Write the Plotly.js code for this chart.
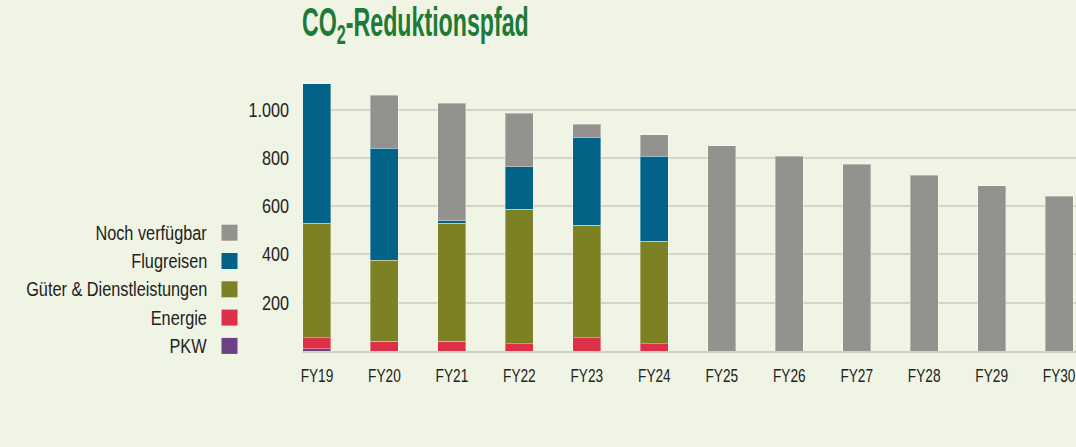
<!DOCTYPE html>
<html>
<head>
<meta charset="utf-8">
<script src="https://cdn.plot.ly/plotly-3.0.1.min.js"></script>
<style>
html,body{margin:0;padding:0;background:#f0f4e4;}
#chart{width:1076px;height:447px;}
</style>
</head>
<body>
<div id="chart"></div>
<script>
// ---- data ----
const categories = ["FY19","FY20","FY21","FY22","FY23","FY24","FY25","FY26","FY27","FY28","FY29","FY30"];
const pkw        = [10, 0, 0, 0, 0, 0, 0, 0, 0, 0, 0, 0];
const energie    = [45, 41, 41, 31, 55, 31, 0, 0, 0, 0, 0, 0];
const gueter     = [475, 334, 489, 556, 466, 423, 0, 0, 0, 0, 0, 0];
const flugreisen = [576, 464, 10, 176, 362, 352, 0, 0, 0, 0, 0, 0];
const nochVerf   = [0, 221, 487, 221, 57, 89, 851, 807, 774, 728, 684, 640];
const seriesNames = ["PKW", "Energie", "Güter & Dienstleistungen", "Flugreisen", "Noch verfügbar"];
const seriesColors = ["#6e4187", "#dc3048", "#7d8023", "#006387", "#94928e"];
const yTickVals = [200, 400, 600, 800, 1000];
const yTickText = ["200", "400", "600", "800", "1.000"];
const titleText = "CO<sub>2</sub>-Reduktionspfad";

// ---- chart ----
const FONT = "Liberation Sans, Arial, sans-serif";
const W = 1076, H = 447;
const M = {l: 302, r: 0, t: 83, b: 96};
const seriesValues = [pkw, energie, gueter, flugreisen, nochVerf];

const traces = seriesValues.map((vals, i) => ({
  type: "bar",
  name: seriesNames[i],
  x: categories,
  y: vals,
  marker: {color: seriesColors[i], line: {color: "rgba(255,255,255,0.35)", width: 1}},
  hoverinfo: "x+y+name",
  showlegend: false
}));

// legend drawn on the left: text right-aligned, swatch to its right
const plotH = H - M.t - M.b, plotW = W - M.l - M.r;
const pxX = x => (x - M.l) / plotW;
const pxY = y => (H - M.b - y) / plotH;
const annotations = [], shapes = [];
const legendOrder = [4, 3, 2, 1, 0];
legendOrder.forEach((si, row) => {
  const cy = 232.7 + row * 28.3;
  annotations.push({
    xref: "paper", yref: "paper", x: pxX(209), y: pxY(cy),
    xanchor: "right", yanchor: "middle", showarrow: false,
    text: seriesNames[si], font: {family: FONT, size: 20, color: "#222"}
  });
  shapes.push({
    type: "rect", xref: "paper", yref: "paper",
    x0: pxX(221.5), x1: pxX(237.5), y0: pxY(cy - 8), y1: pxY(cy + 8),
    fillcolor: seriesColors[si], line: {width: 0}
  });
});

const layout = {
  width: W, height: H,
  margin: M,
  barmode: "stack",
  bargap: 0.585,
  paper_bgcolor: "#f0f4e4",
  plot_bgcolor: "#f0f4e4",
  font: {family: FONT, size: 20, color: "#222"},
  title: {
    text: titleText,
    font: {family: FONT, size: 40, color: "#1e7a37", weight: "bold"},
    xref: "paper", x: 0, xanchor: "left",
    yref: "container", y: 1 - 22 / H, yanchor: "middle"
  },
  xaxis: {
    type: "category",
    range: [-0.222, 11.25],
    showgrid: false, zeroline: false,
    showline: true, linecolor: "#cfd2c2", linewidth: 2,
    ticks: "", ticklabelstandoff: 6,
    tickfont: {family: FONT, size: 19, color: "#222"},
    fixedrange: true
  },
  yaxis: {
    range: [0, 1110],
    tickvals: yTickVals, ticktext: yTickText,
    showgrid: true, gridcolor: "#d3d6c6", gridwidth: 2,
    zeroline: false, showline: false,
    ticks: "", ticklabelstandoff: 12,
    tickfont: {family: FONT, size: 20, color: "#222"},
    fixedrange: true
  },
  annotations: annotations,
  shapes: shapes,
  showlegend: false
};

// condense text horizontally (reference uses a condensed typeface)
function condense(sel, s, pivot) {
  document.querySelectorAll(sel).forEach(t => {
    const b = t.getBBox();
    if (!b.width) return;
    const px = pivot === "right" ? b.x + b.width : pivot === "left" ? b.x : b.x + b.width / 2;
    const prev = t.getAttribute("transform") || "";
    t.setAttribute("transform", prev + ` translate(${px},0) scale(${s},1) translate(${-px},0)`);
  });
}

Plotly.newPlot("chart", traces, layout, {displayModeBar: false, staticPlot: true}).then(() => {
  condense("#chart .xtick text", 0.72, "center");
  condense("#chart .ytick text", 0.81, "right");
  condense("#chart .annotation-text", 0.815, "right");
  condense("#chart .gtitle", 0.58, "left");
});
</script>
</body>
</html>
